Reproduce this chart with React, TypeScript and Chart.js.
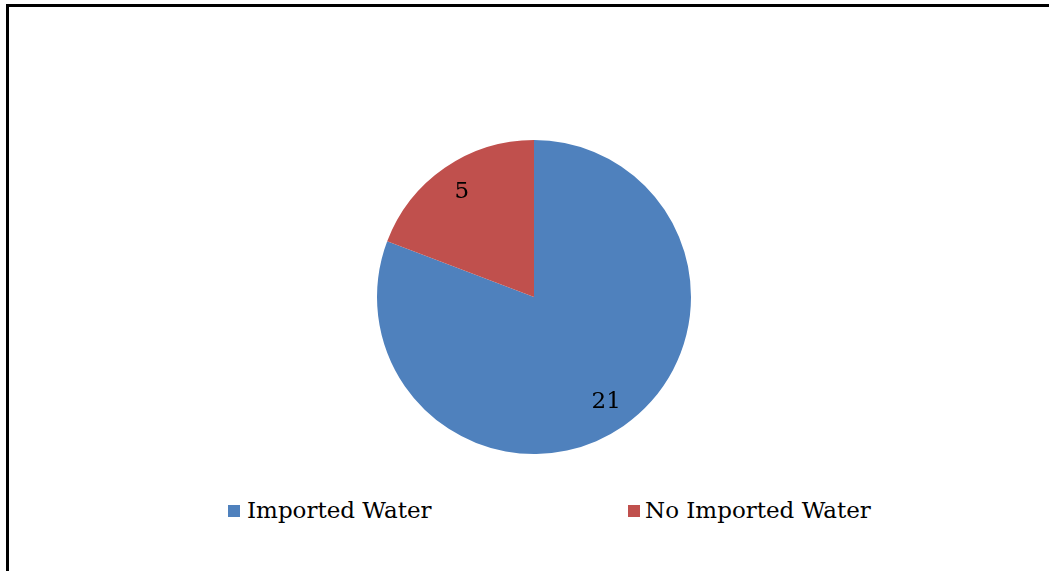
import React, { useEffect, useRef } from "react";
import { Chart, registerables } from "chart.js";

Chart.register(...registerables);

const categories = ["Imported Water", "No Imported Water"];
const values = [21, 5];
const colors = ["#4F81BD", "#C0504D"];

const FONT = "'DejaVu Serif', serif";

const labelPlugin = {
  id: "sliceLabels",
  afterDatasetsDraw(chart: any) {
    const ctx = chart.ctx;
    const meta = chart.getDatasetMeta(0);
    ctx.save();
    ctx.font = `23px ${FONT}`;
    ctx.fillStyle = "#000";
    ctx.textAlign = "center";
    ctx.textBaseline = "middle";
    meta.data.forEach((arc: any, i: number) => {
      const { x, y, startAngle, endAngle, outerRadius } = arc.getProps(
        ["x", "y", "startAngle", "endAngle", "outerRadius"],
        true
      );
      const mid = (startAngle + endAngle) / 2;
      const r = outerRadius * 0.81;
      ctx.fillText(String(values[i]), x + Math.cos(mid) * r, y + Math.sin(mid) * r);
    });
    ctx.restore();
  },
};

export default function App() {
  const ref = useRef<HTMLCanvasElement>(null);
  useEffect(() => {
    if (!ref.current) return;
    const chart = new Chart(ref.current, {
      type: "pie",
      data: {
        labels: categories,
        datasets: [
          {
            data: values,
            backgroundColor: colors,
            borderColor: "#ffffff",
            borderWidth: 0,
          },
        ],
      },
      options: {
        animation: false,
        responsive: false,
        maintainAspectRatio: false,
        layout: { padding: 3 },
        plugins: {
          legend: { display: false },
          tooltip: { enabled: false },
        },
      },
      plugins: [labelPlugin],
    });
    return () => chart.destroy();
  }, []);

  const legendItem = (i: number, boxLeft: number, textLeft: number) => (
    <React.Fragment key={i}>
      <div
        style={{
          position: "absolute",
          left: boxLeft,
          top: 505,
          width: 12,
          height: 12,
          background: colors[i],
        }}
      />
      <div
        style={{
          position: "absolute",
          left: textLeft,
          top: 497,
          fontFamily: FONT,
          fontSize: 23,
          lineHeight: "27px",
          whiteSpace: "nowrap",
          color: "#000",
        }}
      >
        {categories[i]}
      </div>
    </React.Fragment>
  );

  return (
    <div
      style={{
        position: "fixed",
        left: 0,
        top: 0,
        width: 1049,
        height: 571,
        overflow: "hidden",
        background: "#fff",
      }}
    >
      <div
        style={{
          position: "absolute",
          left: 6,
          top: 4,
          width: 1100,
          height: 700,
          borderTop: "3px solid #000",
          borderLeft: "3px solid #000",
        }}
      />
      <canvas
        ref={ref}
        width={320}
        height={320}
        style={{ position: "absolute", left: 374, top: 137, width: 320, height: 320 }}
      />
      {legendItem(0, 228, 247)}
      {legendItem(1, 628, 645)}
    </div>
  );
}
